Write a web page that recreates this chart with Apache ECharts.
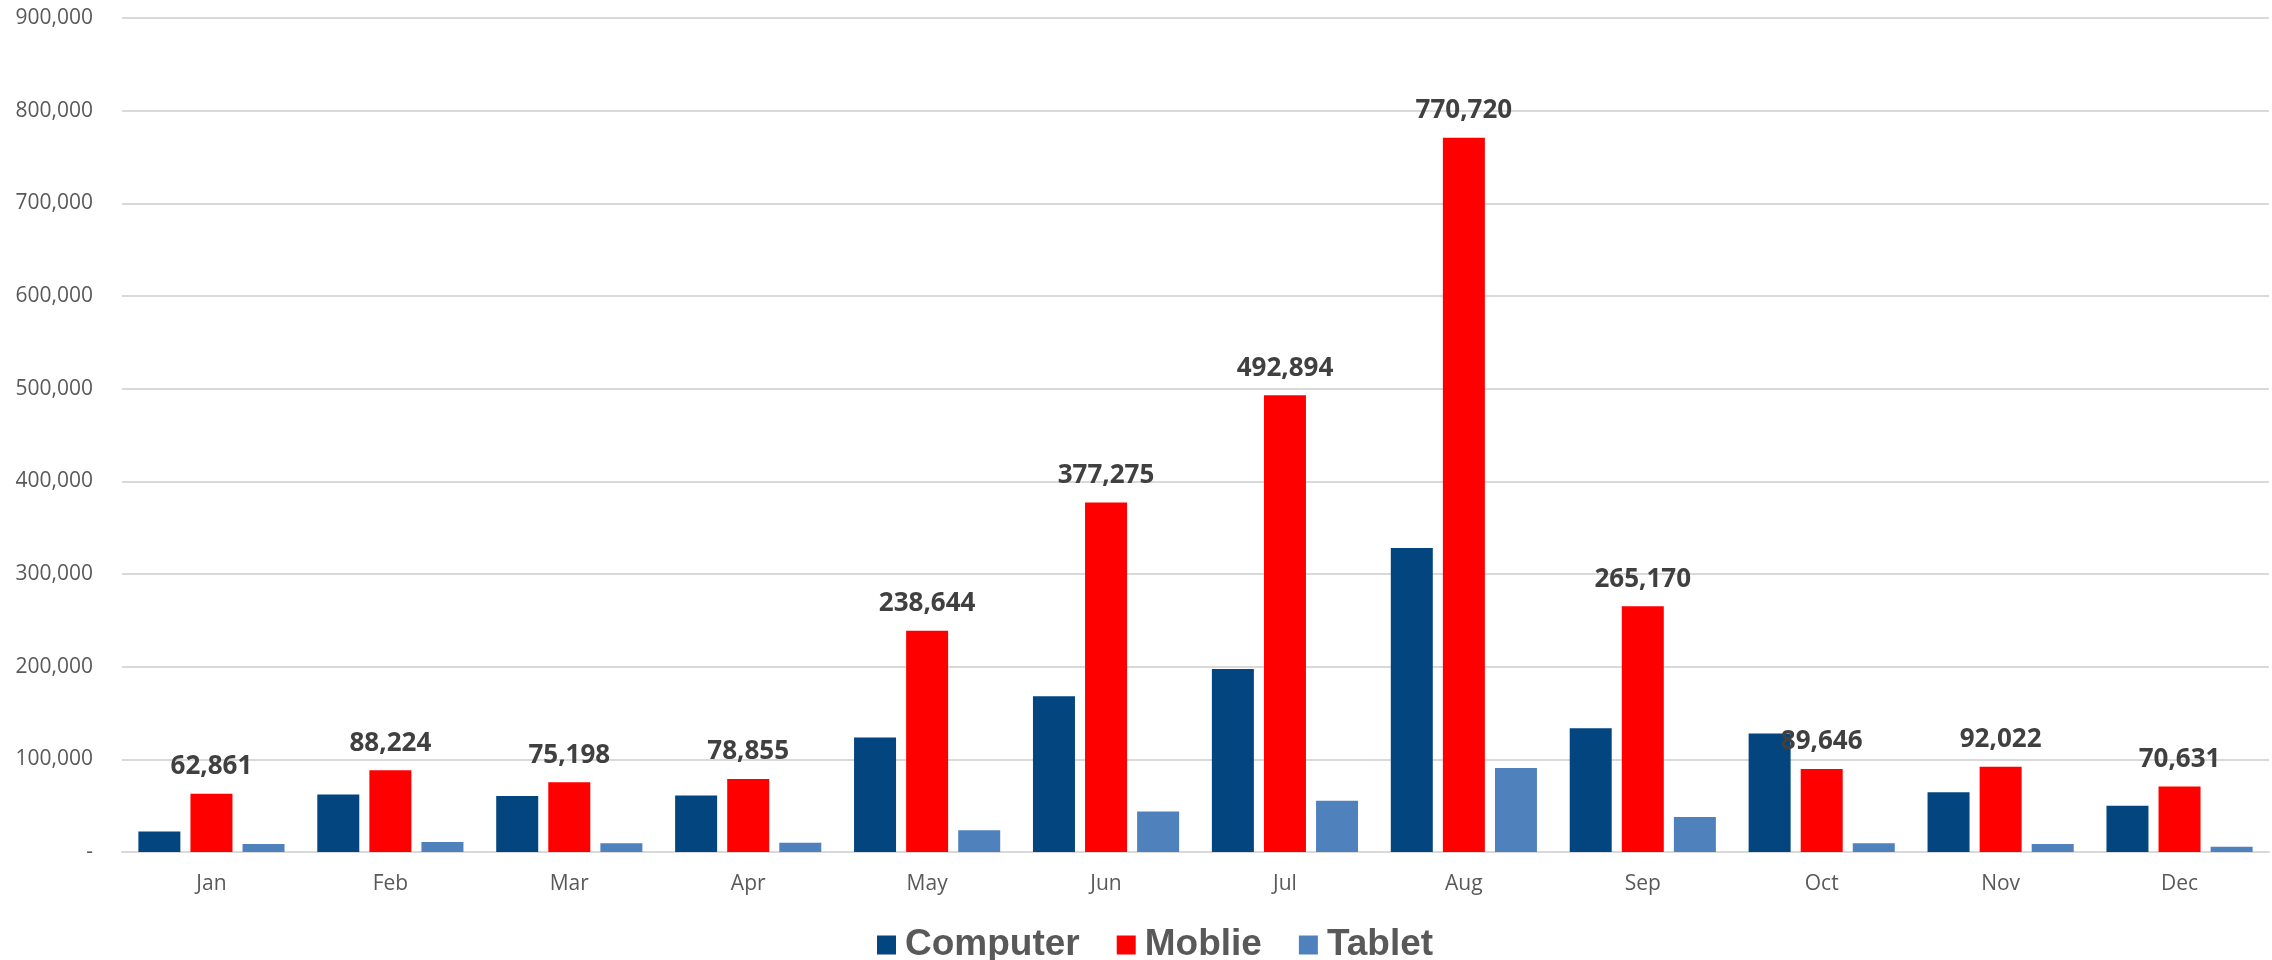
<!DOCTYPE html>
<html>
<head>
<meta charset="utf-8">
<script src="https://cdn.jsdelivr.net/npm/echarts@6/dist/echarts.min.js"></script>
<style>
html,body{margin:0;padding:0;background:#fff;}
#chart{width:2272px;height:960px;}
</style>
</head>
<body>
<div id="chart"></div>
<script>
const months = ['Jan','Feb','Mar','Apr','May','Jun','Jul','Aug','Sep','Oct','Nov','Dec'];
const seriesNames = ['Computer','Moblie','Tablet'];
const computer = [22000, 62000, 60500, 61000, 123500, 168000, 197500, 328000, 133500, 128000, 64500, 50000];
const mobile = [62861, 88224, 75198, 78855, 238644, 377275, 492894, 770720, 265170, 89646, 92022, 70631];
const tablet = [8700, 10800, 9400, 10100, 23500, 43700, 55200, 90600, 37800, 9400, 8600, 5800];
const yMin = 0, yMax = 900000, yStep = 100000;

const fmt = v => v === 0 ? '-' : Number(v).toLocaleString('en-US');
const chart = echarts.init(document.getElementById('chart'), null, {renderer:'canvas'});
chart.setOption({
  animation: false,
  backgroundColor: '#ffffff',
  grid: {left: 122, right: 3, top: 18, bottom: 108, containLabel: false},
  legend: {
    data: seriesNames,
    left: 872, top: 921,
    itemWidth: 19, itemHeight: 19, itemGap: 37,
    icon: 'rect',
    textStyle: {fontFamily: 'Liberation Sans, Arial, sans-serif', fontWeight: 'bold', fontSize: 37, color: '#595959', lineHeight: 38, padding: [0,0,0,4]}
  },
  xAxis: {
    type: 'category',
    data: months,
    axisLine: {show: true, lineStyle: {color: '#D9D9D9', width: 2}},
    axisTick: {show: false},
    axisLabel: {fontFamily: 'Open Sans, sans-serif', fontSize: 21, color: '#595959', margin: 22}
  },
  yAxis: {
    type: 'value',
    min: yMin, max: yMax, interval: yStep,
    axisLine: {show: false},
    axisTick: {show: false},
    splitLine: {lineStyle: {color: '#D9D9D9', width: 2}},
    axisLabel: {fontFamily: 'Open Sans, sans-serif', fontSize: 21, color: '#595959', margin: 29, formatter: fmt}
  },
  series: [
    {name: seriesNames[0], type: 'bar', data: computer, barWidth: 42, barGap: '24%', itemStyle: {color: '#03457E'}, z: 2},
    {name: seriesNames[1], type: 'bar', data: mobile, barWidth: 42, barGap: '24%', itemStyle: {color: '#FF0000'}, z: 2,
      label: {show: true, position: 'top', distance: 14, formatter: p => fmt(p.value),
        fontFamily: 'Open Sans, sans-serif', fontWeight: 'bold', fontSize: 26, color: '#404040'}},
    {name: seriesNames[2], type: 'bar', data: tablet, barWidth: 42, barGap: '24%', itemStyle: {color: '#4F81BD'}, z: 2}
  ]
});
</script>
</body>
</html>
